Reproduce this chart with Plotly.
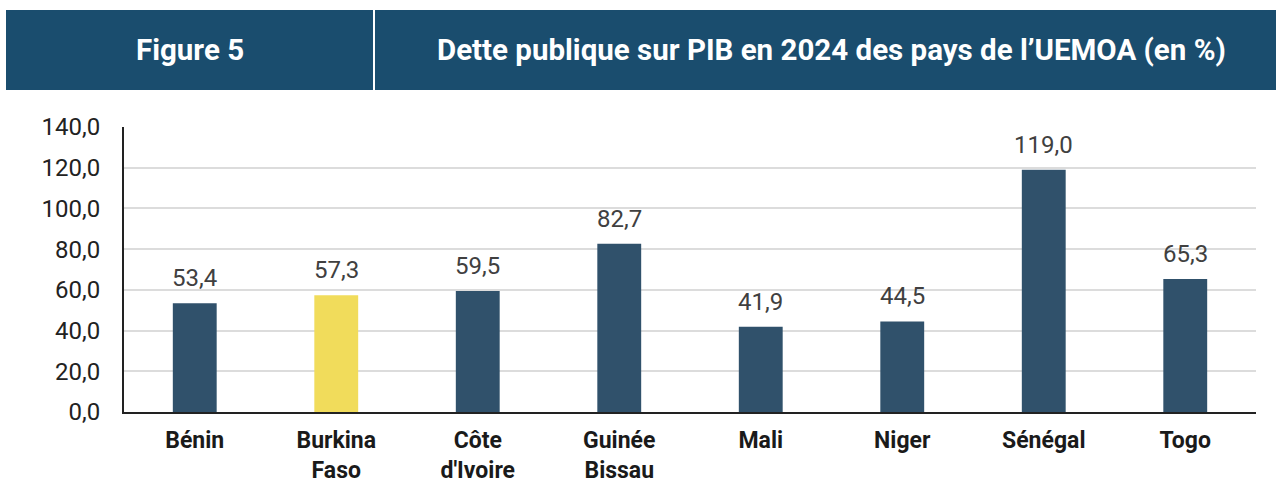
import plotly.graph_objects as go

categories = ["Bénin", "Burkina<br>Faso", "Côte<br>d'Ivoire", "Guinée<br>Bissau", "Mali", "Niger", "Sénégal", "Togo"]
values = [53.4, 57.3, 59.5, 82.7, 41.9, 44.5, 119.0, 65.3]
highlight = "Burkina<br>Faso"
y_ticks = [0, 20, 40, 60, 80, 100, 120, 140]
header_left = "Figure 5"
header_right = "Dette publique sur PIB en 2024 des pays de l’UEMOA (en %)"

DARK = "#30516b"
YELLOW = "#f1dc5b"
colors = [YELLOW if c == highlight else DARK for c in categories]

W, H = 1276, 484
L, R, T, B = 124, 20, 127, 72
pw, ph = W - L - R, H - T - B

def px_x(x):
    return (x - L) / pw

def px_y(y):
    return (H - B - y) / ph

fig = go.Figure()
fig.add_trace(go.Bar(x=categories, y=values, marker=dict(color=colors, line=dict(width=0)),
                     width=0.31, hoverinfo="skip"))

for c, v in zip(categories, values):
    fig.add_annotation(x=c, y=v, text=f"{v:.1f}".replace(".", ","), showarrow=False,
                       yanchor="bottom", yshift=9,
                       font=dict(family="Roboto", size=24, color="#404040"))

# header band
fig.add_shape(type="rect", xref="paper", yref="paper", x0=px_x(6), x1=px_x(1280),
              y0=px_y(90), y1=px_y(10), fillcolor="#1a4d6e", line=dict(width=0), layer="above")
fig.add_shape(type="line", xref="paper", yref="paper", x0=px_x(374), x1=px_x(374),
              y0=px_y(90), y1=px_y(10), line=dict(color="white", width=2), layer="above")
fig.add_annotation(xref="paper", yref="paper", x=px_x(190), y=px_y(50), text=f"<b>{header_left}</b>",
                   showarrow=False, xanchor="center", yanchor="middle",
                   font=dict(family="Roboto", size=29.5, color="white"))
fig.add_annotation(xref="paper", yref="paper", x=px_x(831), y=px_y(50), text=f"<b>{header_right}</b>",
                   showarrow=False, xanchor="center", yanchor="middle",
                   font=dict(family="Roboto", size=29.5, color="white"))

fig.update_layout(
    width=W, height=H,
    margin=dict(l=L, r=R, t=T, b=B, pad=0, autoexpand=False),
    paper_bgcolor="white", plot_bgcolor="white",
    separators=", ",
    showlegend=False,
    xaxis=dict(showline=True, linecolor="#222222", linewidth=2, showgrid=False,
               tickfont=dict(family="Roboto", size=23, color="#1a1a1a", weight="bold"),
               ticks="", ticklabelstandoff=6, fixedrange=True, automargin=False),
    yaxis=dict(range=[0, 140], tickvals=y_ticks, tickformat=".1f",
               showline=True, linecolor="#222222", linewidth=2,
               showgrid=True, gridcolor="#dcdcdc", gridwidth=2, zeroline=False,
               tickfont=dict(family="Roboto", size=24, color="#222222"),
               ticks="", ticklabelstandoff=17, fixedrange=True, automargin=False),
)

fig.write_html("out.html", config={"displayModeBar": False},
               post_script="document.body.style.margin='0px';document.body.style.padding='0px';")
